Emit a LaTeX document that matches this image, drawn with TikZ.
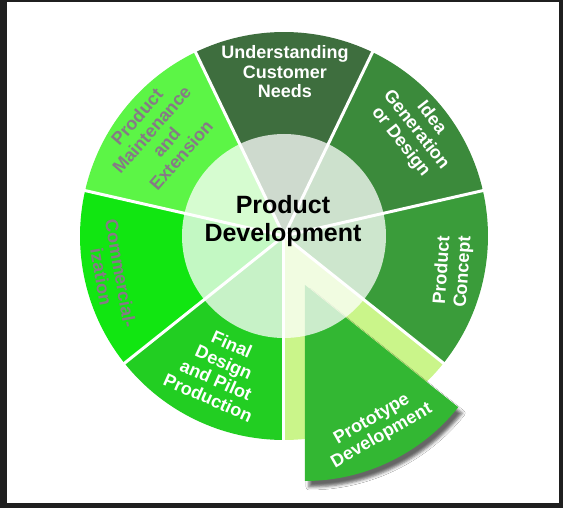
\documentclass[tikz,border=0pt]{standalone}
\usepackage{fontspec}
\setmainfont{Liberation Sans}
\usepackage{tikz}
\usepackage{xcolor}
\usetikzlibrary{shadows.blur}

\definecolor{needsgreen}{RGB}{62,110,62}
\definecolor{ideagreen}{RGB}{59,138,59}
\definecolor{conceptgreen}{RGB}{58,156,58}
\definecolor{protogreen}{RGB}{51,183,51}
\definecolor{finalgreen}{RGB}{34,206,34}
\definecolor{commgreen}{RGB}{17,230,17}
\definecolor{maintgreen}{RGB}{92,245,70}
\definecolor{limegreen}{RGB}{202,245,138}
\definecolor{labelgrey}{RGB}{134,122,134}
\definecolor{framegrey}{RGB}{31,31,31}

\begin{document}
\begin{tikzpicture}[x=1pt, y=1pt,
	steplabel/.style={align=center, text=white, inner sep=0pt, font=\bfseries\fontsize{18}{19.5}\selectfont},
	divider/.style={white, line width=3pt}]
	\useasboundingbox (-284,-272) rectangle (279,236);
	\fill[framegrey] (-284,-272) rectangle (279,236);
	\fill[white] (-277,-267) rectangle (275,234);
	% Wedges of the wheel:
	\fill[limegreen] (0,0) -- (-90:204) arc[start angle=-90, end angle=-38.57, radius=204] -- cycle;
	\fill[conceptgreen] (0,0) -- (-38.57:204) arc[start angle=-38.57, end angle=12.86, radius=204] -- cycle;
	\fill[ideagreen] (0,0) -- (12.86:204) arc[start angle=12.86, end angle=64.29, radius=204] -- cycle;
	\fill[needsgreen] (0,0) -- (64.29:204) arc[start angle=64.29, end angle=115.71, radius=204] -- cycle;
	\fill[maintgreen] (0,0) -- (115.71:204) arc[start angle=115.71, end angle=167.14, radius=204] -- cycle;
	\fill[commgreen] (0,0) -- (167.14:204) arc[start angle=167.14, end angle=218.57, radius=204] -- cycle;
	\fill[finalgreen] (0,0) -- (218.57:204) arc[start angle=218.57, end angle=270, radius=204] -- cycle;
	\draw[divider] (0,0) -- (-90:207);
	\draw[divider] (0,0) -- (-38.57:207);
	\draw[divider] (0,0) -- (12.86:207);
	\draw[divider] (0,0) -- (64.29:207);
	\draw[divider] (0,0) -- (115.71:207);
	\draw[divider] (0,0) -- (167.14:207);
	\draw[divider] (0,0) -- (218.57:207);
	% Pulled-out wedge and the hub:
	\fill[protogreen, blur shadow={shadow xshift=4pt, shadow yshift=-6pt, shadow blur radius=3pt, shadow opacity=60}] (21,-49) -- ++(-90:196) arc[start angle=-90, end angle=-38.57, radius=196] -- cycle;
	\fill[white, opacity=0.75] (0,0) circle[radius=102];
	% Labels:
	\node[steplabel](N1) at (1,164){Understanding\\Customer\\Needs};
	\node[steplabel, rotate=-52](N2) at (132,106){Idea\\Generation\\or Design};
	\node[steplabel, rotate=86, font=\bfseries\fontsize{18}{21}\selectfont](N3) at (169,-35){Product\\Concept};
	\node[steplabel, rotate=30](N4) at (93,-192){Prototype\\Development};
	\node[steplabel, rotate=-24](N5) at (-64,-135){Final\\Design\\and Pilot\\Production};
	\node[steplabel, text=labelgrey, rotate=-80](N6) at (-173,-39){Commercial-\\ization};
	\node[steplabel, text=labelgrey, rotate=49](N7) at (-125,100){Product\\Maintenance\\and\\Extension};
	\node[align=center, inner sep=0pt, font=\bfseries\fontsize{25}{28}\selectfont](N8) at (-1,15){Product\\Development};
\end{tikzpicture}
\end{document}
